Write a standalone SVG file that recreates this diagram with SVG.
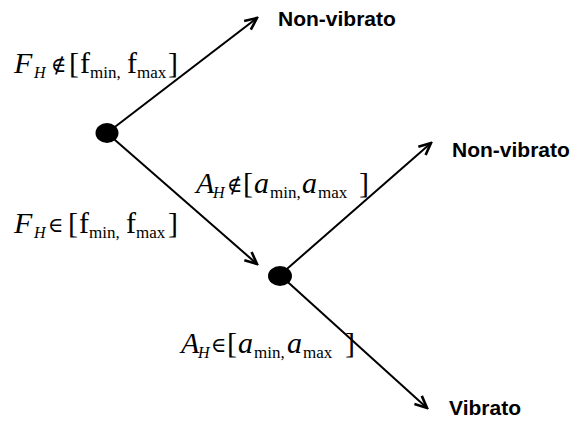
<svg xmlns="http://www.w3.org/2000/svg" width="570" height="427" viewBox="0 0 570 427">
<style>
.edge{stroke:#000;stroke-width:2;fill:none}
.dot{fill:#000}
.out{font-family:"Liberation Sans",Arial,sans-serif;font-weight:bold;font-size:21px;fill:#000}
.m{font-family:"Liberation Serif","Times New Roman",serif;font-size:30px;fill:#000}
.i{font-style:italic}
.s{font-size:17px}
.sh{font-size:16px;font-style:italic}
.rel{font-family:"DejaVu Serif","Liberation Serif",serif;font-size:21px}
</style>
<defs>
<marker id="ah" markerWidth="16" markerHeight="14" refX="0" refY="0" viewBox="-14 -7 16 14" orient="auto" markerUnits="userSpaceOnUse">
<path d="M-12,-5.5 L0,0 L-12,5.5" fill="none" stroke="#000" stroke-width="2.6"/>
</marker>
</defs>
<rect width="570" height="427" fill="#fff"/>
<g id="connectors">
<line class="edge" x1="107" y1="133" x2="257" y2="18" marker-end="url(#ah)"/>
<line class="edge" x1="107" y1="133" x2="257" y2="264" marker-end="url(#ah)"/>
<line class="edge" x1="280" y1="275" x2="431" y2="143" marker-end="url(#ah)"/>
<line class="edge" x1="280" y1="275" x2="427" y2="408" marker-end="url(#ah)"/>
</g>
<g id="node1"><ellipse class="dot" cx="107" cy="133" rx="11.5" ry="10"/></g>
<g id="node2"><ellipse class="dot" cx="280" cy="276" rx="12" ry="10"/></g>
<g id="out1"><text class="out" x="278" y="26">Non-vibrato</text></g>
<g id="out2"><text class="out" x="452" y="157">Non-vibrato</text></g>
<g id="out3"><text class="out" x="449" y="415">Vibrato</text></g>
<g id="label1"><text class="m"><tspan class="i" x="14" y="73">F</tspan><tspan class="sh" x="34" y="78">H</tspan><tspan class="rel" x="51" y="72">∉</tspan><tspan x="69" y="73">[</tspan><tspan x="80" y="73">f</tspan><tspan class="s" x="90" y="78">min,</tspan><tspan x="127" y="73">f</tspan><tspan class="s" x="137" y="78">max</tspan><tspan x="168" y="73">]</tspan></text></g>
<g id="label2"><text class="m"><tspan class="i" x="14" y="233">F</tspan><tspan class="sh" x="34" y="238">H</tspan><tspan class="rel" x="48" y="232">∈</tspan><tspan x="68" y="233">[</tspan><tspan x="79" y="233">f</tspan><tspan class="s" x="89" y="238">min,</tspan><tspan x="126" y="233">f</tspan><tspan class="s" x="136" y="238">max</tspan><tspan x="168" y="233">]</tspan></text></g>
<g id="label3"><text class="m"><tspan class="i" x="196" y="193">A</tspan><tspan class="sh" x="213" y="198">H</tspan><tspan class="rel" x="227" y="192">∉</tspan><tspan x="243" y="193">[</tspan><tspan class="i" x="254" y="193">a</tspan><tspan class="s" x="270" y="198">min,</tspan><tspan class="i" x="302" y="193">a</tspan><tspan class="s" x="318" y="198">max</tspan><tspan x="359" y="193">]</tspan></text></g>
<g id="label4"><text class="m"><tspan class="i" x="181" y="353">A</tspan><tspan class="sh" x="198" y="358">H</tspan><tspan class="rel" x="211" y="352">∈</tspan><tspan x="227" y="353">[</tspan><tspan class="i" x="238" y="353">a</tspan><tspan class="s" x="254" y="358">min,</tspan><tspan class="i" x="287" y="353">a</tspan><tspan class="s" x="303" y="358">max</tspan><tspan x="345" y="353">]</tspan></text></g>
</svg>
